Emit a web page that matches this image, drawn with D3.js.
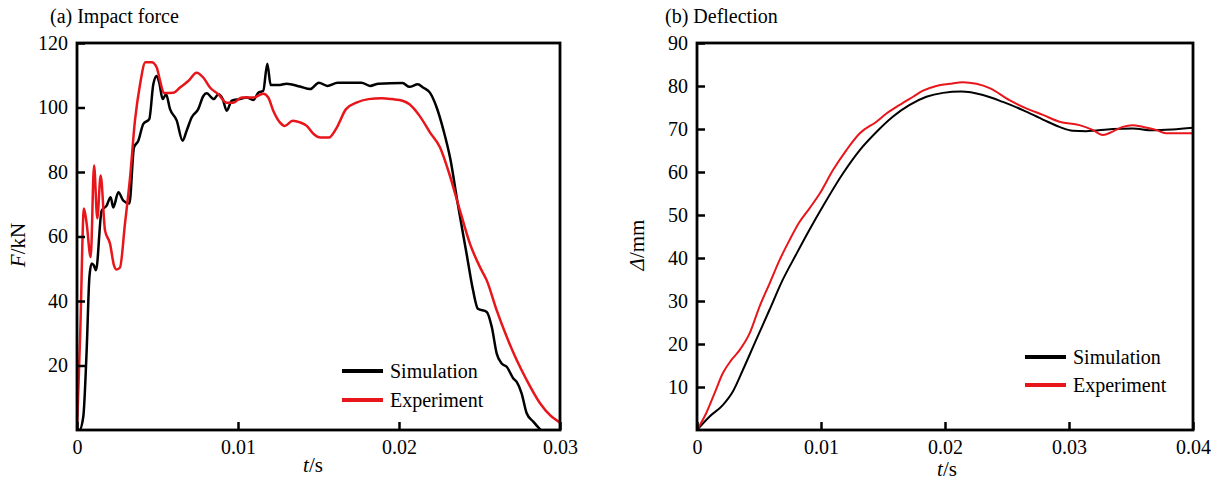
<!DOCTYPE html>
<html>
<head>
<meta charset="utf-8">
<script src="https://cdn.jsdelivr.net/npm/d3@7"></script>
<style>
  body { margin: 0; background: #fff; }
</style>
</head>
<body>
<div id="chart"></div>
<script>
// (a) impact force, t in ms
var forceSimT = [0, 0.15, 0.39, 0.6, 0.77, 0.91, 1.05, 1.18, 1.53, 1.84, 2.09, 2.25, 2.57, 2.88, 3.25, 3.54, 3.81, 4.12, 4.49, 4.74, 4.95, 5.11, 5.32, 5.53, 5.78, 6.19, 6.56, 6.81, 7.12, 7.53, 7.84, 8.05, 8.5, 8.78, 9.05, 9.3, 9.61, 10.12, 10.54, 10.95, 11.26, 11.57, 11.82, 12.03, 12.6, 13.02, 13.85, 14.49, 15.02, 15.55, 16.19, 17.67, 18.2, 18.73, 20.22, 20.65, 21.17, 21.49, 21.92, 22.34, 22.76, 23.19, 23.62, 24.2, 24.6, 24.9, 25.45, 25.76, 26.07, 26.38, 26.69, 27.1, 27.31, 27.62, 27.93, 28.34, 28.8];
var forceSimF = [0, 0, 4.1, 24.7, 47.4, 51.6, 51, 49.5, 68, 69.6, 72.2, 69, 73.7, 71.1, 70.2, 87.6, 89.7, 94.9, 96.4, 107.2, 109.8, 107.7, 102.6, 104.1, 99.5, 96, 89.7, 92.8, 96.9, 99.5, 103.5, 104.4, 102.6, 104.1, 102.6, 99, 102.1, 102.6, 103.1, 102.3, 104.6, 105.2, 113.6, 107, 107, 107.4, 106.5, 105.7, 107.7, 106.7, 107.7, 107.7, 106.7, 107.4, 107.6, 106.4, 107.2, 106.2, 104.6, 100, 93, 84, 71, 54.6, 43.3, 37.6, 36.6, 32, 23.7, 20.6, 19.6, 16, 14.9, 11.3, 5.2, 2.6, 0];
var forceExpT = [0, 0.2, 0.43, 0.6, 0.85, 1.06, 1.26, 1.47, 1.74, 2.05, 2.3, 2.46, 2.67, 2.98, 3.29, 3.6, 3.91, 4.25, 4.64, 4.95, 5.16, 5.4, 5.98, 6.4, 6.91, 7.43, 7.84, 8.26, 8.78, 9.3, 9.71, 10.23, 10.95, 11.57, 11.88, 12.19, 12.6, 12.9, 13.4, 13.85, 14.27, 14.7, 15.12, 15.65, 16.08, 16.71, 17.35, 18.1, 18.94, 19.58, 20.22, 20.65, 21.28, 21.92, 22.55, 23.09, 23.79, 24.41, 25.03, 25.45, 26.07, 26.69, 27.31, 27.93, 28.76, 29.38, 30];
var forceExpF = [0, 30, 68.7, 64, 53.6, 82, 65.6, 78.9, 61.9, 57.8, 51, 49.8, 50.4, 64, 78, 95.9, 107, 114, 114, 112.4, 108.3, 104.5, 104.6, 106.2, 108.2, 110.8, 109.3, 106.2, 104.1, 101.5, 101.5, 103.1, 103.1, 104.3, 103.1, 99, 95.4, 94.3, 95.9, 95.4, 94.3, 91.8, 90.7, 90.7, 93.3, 99.5, 101.5, 102.6, 102.9, 102.6, 102.1, 101, 97.4, 92.3, 87.6, 80, 68, 57.7, 50.5, 46.4, 37.1, 28.9, 21.7, 15.5, 8.3, 4.6, 2.3];

// (b) deflection, t in ms
var deflSimT = [0, 1.0, 2.08, 2.88, 3.69, 4.76, 5.84, 6.91, 7.99, 9.06, 10.13, 11.78, 13.13, 14.47, 15.81, 17.15, 18.5, 19.84, 21.3, 23.06, 24.67, 26.28, 27.89, 29.23, 30.3, 31.38, 33.52, 35.13, 36.74, 38.35, 40];
var deflSimD = [0, 3.1, 5.8, 8.9, 13.9, 20.9, 27.9, 34.9, 40.8, 46.5, 51.9, 59.7, 65.1, 69.3, 72.9, 75.6, 77.5, 78.4, 78.7, 77.9, 76.3, 74.4, 72.2, 70.5, 69.6, 69.5, 70, 70.1, 69.7, 69.9, 70.3];
var deflExpT = [0, 0.74, 1.41, 2.08, 2.75, 3.42, 4.23, 5.03, 5.84, 6.64, 7.45, 8.25, 9.06, 9.9, 10.98, 12.05, 13.13, 14.47, 15.28, 16.35, 17.43, 18.23, 19.3, 20.38, 21.45, 22.53, 23.6, 25.2, 26.55, 27.89, 29.23, 30.84, 31.91, 32.72, 33.52, 34.33, 35.13, 35.94, 37.01, 37.82, 40];
var deflExpD = [0, 3.9, 8.5, 13.2, 16.2, 18.5, 22.4, 28.6, 34, 39.4, 44.1, 48.3, 51.5, 55, 60.5, 65.1, 69, 71.7, 73.6, 75.6, 77.5, 78.9, 80, 80.5, 80.9, 80.5, 79.5, 76.7, 74.8, 73.3, 71.7, 70.9, 69.8, 68.6, 69.4, 70.5, 70.9, 70.5, 69.8, 69, 69];

var seriesNames = ["Simulation", "Experiment"];
var forceTicksX = [0, 0.01, 0.02, 0.03];
var forceTicksY = [20, 40, 60, 80, 100, 120];
var deflTicksX = [0, 0.01, 0.02, 0.03, 0.04];
var deflTicksY = [10, 20, 30, 40, 50, 60, 70, 80, 90];

var W = 1230, H = 484;
var colors = ["#000000", "#e8161b"];
var FONT = "'Liberation Serif', 'Times New Roman', Times, serif";

var svg = d3.select("#chart").append("svg")
  .attr("width", W)
  .attr("height", H)
  .style("font-family", FONT);

svg.append("rect").attr("width", W).attr("height", H).attr("fill", "#fff");

function zip(ts, vs) {
  return ts.map((t, i) => [t / 1000, vs[i]]);
}

function panel(cfg) {
  var x = d3.scaleLinear().domain(cfg.xDomain).range([cfg.left, cfg.right]);
  var y = d3.scaleLinear().domain(cfg.yDomain).range([cfg.bottom, cfg.top]);

  var line = d3.line()
    .x(d => x(d[0]))
    .y(d => y(d[1]))
    .curve(d3.curveMonotoneX);

  var clipId = "clip" + cfg.id;
  svg.append("clipPath").attr("id", clipId)
    .append("rect")
    .attr("x", cfg.left).attr("y", cfg.top)
    .attr("width", cfg.right - cfg.left).attr("height", cfg.bottom - cfg.top);

  var g = svg.append("g").attr("clip-path", "url(#" + clipId + ")");
  cfg.series.forEach((s, i) => {
    g.append("path")
      .datum(s)
      .attr("d", line)
      .attr("fill", "none")
      .attr("stroke", colors[i])
      .attr("stroke-width", cfg.lineWidth)
      .attr("stroke-linejoin", "round");
  });

  // axes, ticks pointing inward
  var xAxis = svg.append("g")
    .attr("transform", "translate(0," + cfg.bottom + ")")
    .call(d3.axisBottom(x).tickValues(cfg.xTicks).tickSizeInner(-8).tickSizeOuter(0).tickPadding(10)
      .tickFormat(d => d === 0 ? "0" : d.toFixed(2)));
  var yAxis = svg.append("g")
    .attr("transform", "translate(" + cfg.left + ",0)")
    .call(d3.axisLeft(y).tickValues(cfg.yTicks).tickSizeInner(-8).tickSizeOuter(0).tickPadding(9));

  [xAxis, yAxis].forEach(a => {
    a.attr("font-family", null).attr("font-size", null);
    a.select(".domain").remove();
    a.selectAll(".tick line").attr("stroke", "#000").attr("stroke-width", 2.5);
    a.selectAll(".tick text").attr("font-size", 20).style("font-family", FONT);
  });

  svg.append("rect")
    .attr("x", cfg.left).attr("y", cfg.top)
    .attr("width", cfg.right - cfg.left).attr("height", cfg.bottom - cfg.top)
    .attr("fill", "none").attr("stroke", "#000").attr("stroke-width", 2.8);

  svg.append("text")
    .attr("x", cfg.titleX).attr("y", 23)
    .attr("font-size", 20)
    .style("font-family", FONT)
    .text(cfg.title);

  // x label
  var xl = svg.append("text")
    .attr("x", cfg.xLabelX).attr("y", cfg.xLabelY)
    .attr("font-size", 21)
    .style("font-family", FONT)
    .attr("text-anchor", "middle");
  xl.append("tspan").attr("font-style", "italic").text("t");
  xl.append("tspan").text("/s");

  // y label
  var yl = svg.append("text")
    .attr("transform", "translate(" + cfg.yLabelX + "," + cfg.yLabelY + ") rotate(-90)")
    .attr("font-size", 21)
    .style("font-family", FONT)
    .attr("text-anchor", "middle");
  yl.append("tspan").attr("font-style", "italic").text(cfg.yLabelSym);
  yl.append("tspan").text(cfg.yLabelUnit);

  // legend
  seriesNames.forEach((name, i) => {
    var ly = cfg.legendY + i * cfg.legendGap;
    svg.append("line")
      .attr("x1", cfg.legendX).attr("x2", cfg.legendX + 41)
      .attr("y1", ly).attr("y2", ly)
      .attr("stroke", colors[i]).attr("stroke-width", 4);
    svg.append("text")
      .attr("x", cfg.legendX + 48).attr("y", ly + 7)
      .attr("font-size", 20)
      .style("font-family", FONT)
      .text(name);
  });
}

panel({
  id: "a",
  left: 77, right: 560, top: 43, bottom: 430,
  xDomain: [0, 0.03], yDomain: [0, 120],
  xTicks: forceTicksX, yTicks: forceTicksY,
  series: [zip(forceSimT, forceSimF), zip(forceExpT, forceExpF)],
  lineWidth: 2.5,
  title: "(a) Impact force", titleX: 50,
  xLabelX: 313, xLabelY: 472,
  yLabelX: 25, yLabelY: 245, yLabelSym: "F", yLabelUnit: "/kN",
  legendX: 342, legendY: 371, legendGap: 29
});

panel({
  id: "b",
  left: 697, right: 1193, top: 43, bottom: 430,
  xDomain: [0, 0.04], yDomain: [0, 90],
  xTicks: deflTicksX, yTicks: deflTicksY,
  series: [zip(deflSimT, deflSimD), zip(deflExpT, deflExpD)],
  lineWidth: 2,
  title: "(b) Deflection", titleX: 665,
  xLabelX: 947, xLabelY: 476,
  yLabelX: 644, yLabelY: 245, yLabelSym: "\u0394", yLabelUnit: "/mm",
  legendX: 1025, legendY: 357, legendGap: 28
});
</script>
</body>
</html>
